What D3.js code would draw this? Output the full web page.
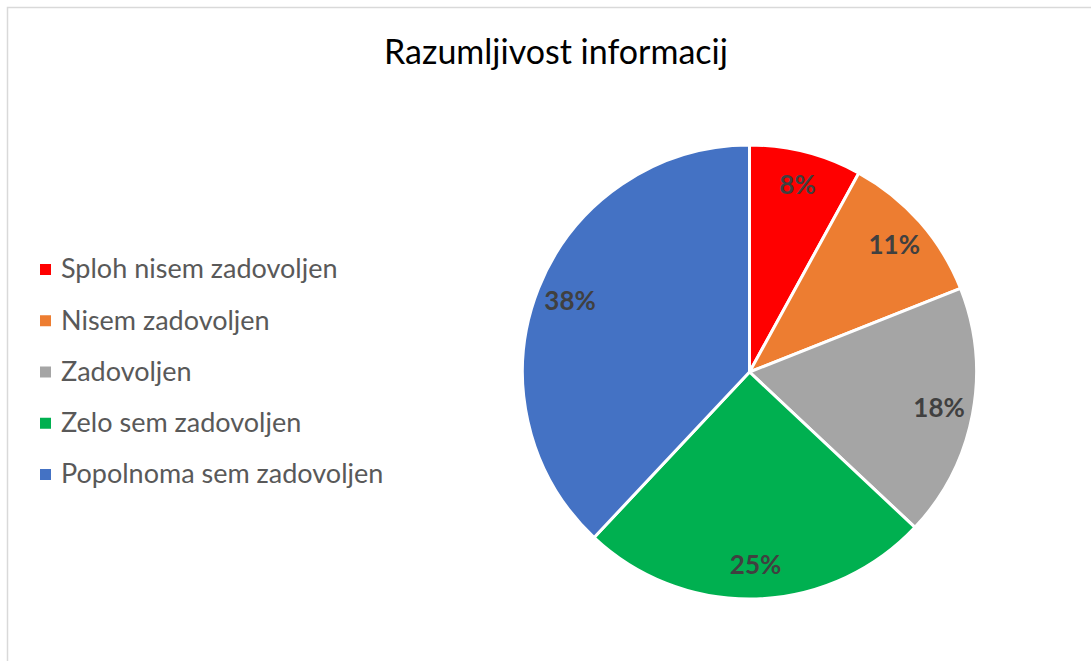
<!DOCTYPE html>
<html>
<head>
<meta charset="utf-8">
<script src="https://cdn.jsdelivr.net/npm/d3@7"></script>
<style>
  body { margin: 0; background: #fff; }
  svg { display: block; font-family: Lato, "Open Sans", sans-serif; }
</style>
</head>
<body>
<svg id="chart" width="1091" height="661"></svg>
<script>
const categories = ["Sploh nisem zadovoljen", "Nisem zadovoljen", "Zadovoljen", "Zelo sem zadovoljen", "Popolnoma sem zadovoljen"];
const values = [8, 11, 18, 25, 38];
const colors = ["#ff0000", "#ed7d31", "#a5a5a5", "#00b050", "#4472c4"];
const title = "Razumljivost informacij";

const svg = d3.select("#chart");
const width = 1091, height = 661;

// chart area border
svg.append("rect")
    .attr("x", 7.5).attr("y", 7.5)
    .attr("width", width + 20).attr("height", height + 20)
    .attr("fill", "#fff")
    .attr("stroke", "#d9d9d9")
    .attr("stroke-width", 1.5);

svg.append("text")
    .attr("x", 556).attr("y", 64)
    .attr("text-anchor", "middle")
    .attr("font-size", 34)
    .attr("fill", "#000")
    .text(title);

const data = categories.map((c, i) => ({ category: c, value: values[i], color: colors[i] }));

const cx = 749.5, cy = 372, radius = 227;
const pie = d3.pie().sort(null).value(d => d.value);
const arc = d3.arc().innerRadius(0).outerRadius(radius);
const labelArc = d3.arc().innerRadius(radius * 0.85).outerRadius(radius * 0.85);
const total = d3.sum(values);

const g = svg.append("g").attr("transform", `translate(${cx},${cy})`);

g.selectAll("path")
    .data(pie(data))
    .enter()
    .append("path")
    .attr("d", arc)
    .attr("fill", d => d.data.color)
    .attr("stroke", "#fff")
    .attr("stroke-width", 3)
    .attr("stroke-linejoin", "round");

g.selectAll(".lbl")
    .data(pie(data))
    .enter()
    .append("text")
    .attr("class", "lbl")
    .attr("transform", d => `translate(${labelArc.centroid(d)})`)
    .attr("text-anchor", "middle")
    .attr("dy", "0.35em")
    .attr("font-size", 26)
    .attr("font-weight", "bold")
    .attr("fill", "#404040")
    .text(d => Math.round(d.data.value / total * 100) + "%");

// legend
const legendY = d3.scalePoint()
    .domain(categories)
    .range([269, 474]);

const legend = svg.append("g");
legend.selectAll("rect")
    .data(data)
    .enter()
    .append("rect")
    .attr("x", 40)
    .attr("y", d => legendY(d.category) - 5)
    .attr("width", 11).attr("height", 11)
    .attr("fill", d => d.color);

legend.selectAll("text")
    .data(data)
    .enter()
    .append("text")
    .attr("x", 61)
    .attr("y", d => legendY(d.category))
    .attr("dy", "0.35em")
    .attr("font-size", 27)
    .attr("fill", "#595959")
    .text(d => d.category);
</script>
</body>
</html>
